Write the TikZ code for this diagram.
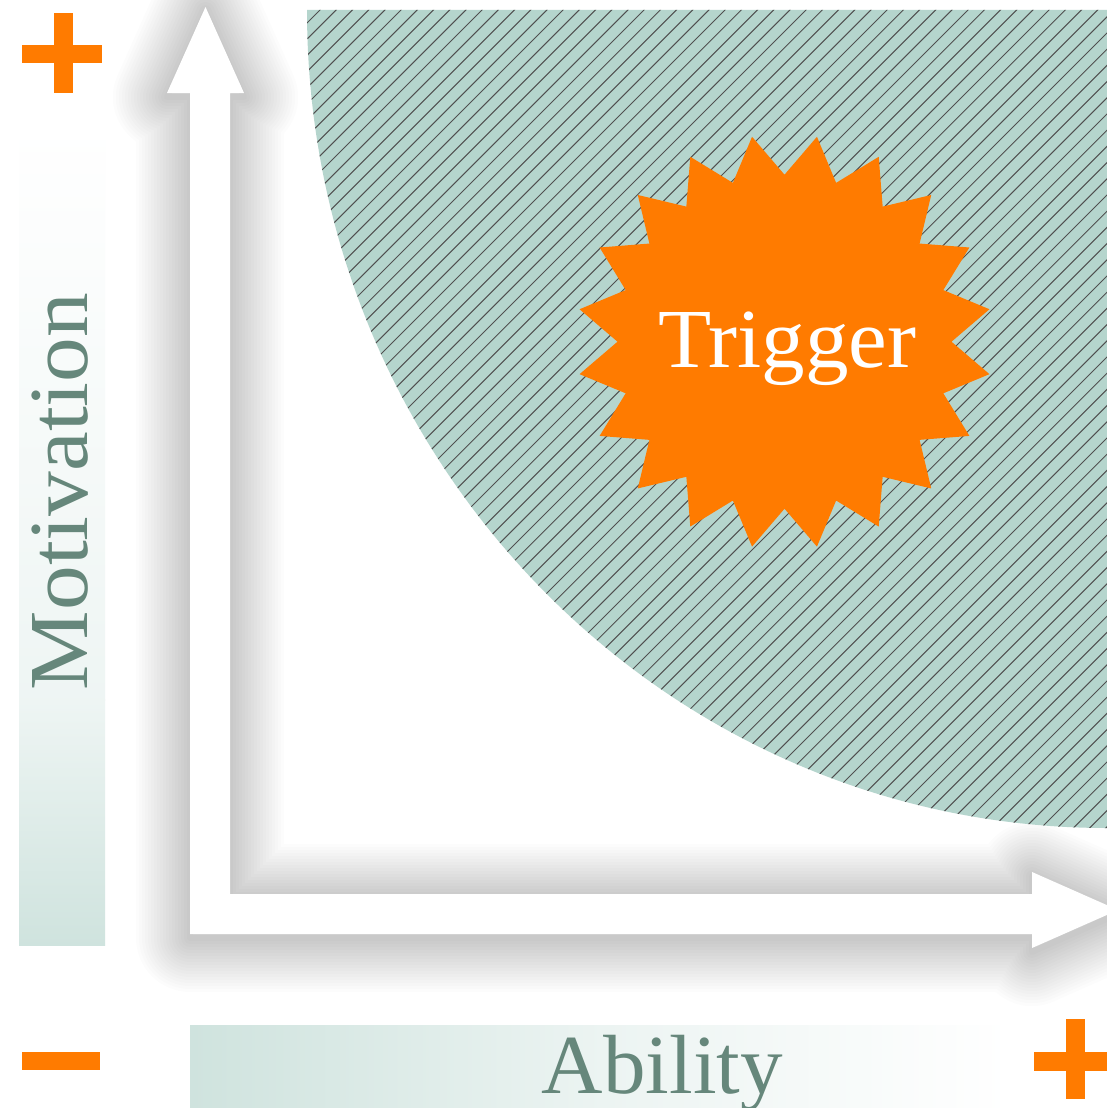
\documentclass[tikz,border=0pt]{standalone}
\usepackage{fontspec}
\setmainfont{Liberation Serif}
\usepackage{graphicx}
\definecolor{orng}{RGB}{255,123,0}
\definecolor{hatchbg}{RGB}{181,213,205}
\definecolor{hatchln}{RGB}{80,80,80}
\definecolor{labelc}{RGB}{102,135,123}
\definecolor{barc}{RGB}{207,227,222}
\begin{document}
\begin{tikzpicture}[x=1pt,y=-1pt,
  labeltext/.style={text=labelc, font=\fontsize{84}{84}\selectfont, inner sep=0pt},
  signshape/.style={fill=orng, draw=none},
  hatchline/.style={draw=hatchln, line width=1pt},
  arrowbody/.style={fill=white, draw=none},
  shadowlayer/.style={draw=black, line join=round, opacity=0.011},
]
\useasboundingbox (0,0) rectangle (1107,1108);
\clip (0,0) rectangle (1107,1108);
\fill[white] (0,0) rectangle (1107,1108);

% gradient bars
\shade[top color=white, bottom color=barc!35!white] (19,122) rectangle (105,700);
\shade[top color=barc!35!white, bottom color=barc] (19,699.5) rectangle (105,945);
\shade[left color=barc, right color=barc!40!white] (190,1025) rectangle (600.5,1115);
\shade[left color=barc!40!white, right color=white] (600,1025) rectangle (1010,1115);

% labels
\node[labeltext, rotate=90, anchor=base] (motiv) at (87,491.5) {\scalebox{1.064}[1]{Motivation}};
\node[labeltext, anchor=base] (abil) at (662.5,1093) {\scalebox{1.013}[1]{Ability}};

% soft shadow of the L-shaped arrow
\begin{scope}[yshift=-4pt]
\foreach \w in {6,12,...,108}{
  \path[shadowlayer, line width=\w pt] (190,934) -- (190,93) -- (167,93) -- (205.5,7) -- (244,93) -- (230,93)
    -- (230,894) -- (1032,894) -- (1032,872) -- (1118,910) -- (1032,948) -- (1032,934) -- cycle;
}
\end{scope}
% L-shaped double arrow
\path[arrowbody] (190,934) -- (190,93) -- (167,93) -- (205.5,7) -- (244,93) -- (230,93)
  -- (230,894) -- (1032,894) -- (1032,872) -- (1118,910) -- (1032,948) -- (1032,934) -- cycle;

% hatched region
\begin{scope}
\clip (1107,10) -- (307,10) arc[start angle=180, end angle=270, x radius=800pt, y radius=818pt] -- cycle;
\fill[hatchbg] (300,0) rectangle (1112,840);
\foreach \k in {0,...,105} \draw[hatchline] ({330+16.2*\k},0) -- ({330+16.2*\k-1200},1200);
\end{scope}

% starburst
\fill[orng] (951.5,341.7) \foreach \i in {0,...,19}{
  -- ({784.5+207.5*cos(18*\i+9)},{341.7+207.5*sin(18*\i+9)})
  -- ({784.5+167*cos(18*\i+18)},{341.7+167*sin(18*\i+18)}) } -- cycle;
\node[font=\fontsize{84}{84}\selectfont, text=white, anchor=base, inner sep=0pt] (trigger) at (787.5,367) {\scalebox{1.036}[1]{Trigger}};

% plus / minus signs
\fill[signshape] (54,13) rectangle (73,93);
\fill[signshape] (22,45) rectangle (102,63);
\fill[signshape] (22,1052) rectangle (100,1070);
\fill[signshape] (1066,1019) rectangle (1085,1099);
\fill[signshape] (1034,1052) rectangle (1115,1071);
\end{tikzpicture}
\end{document}
